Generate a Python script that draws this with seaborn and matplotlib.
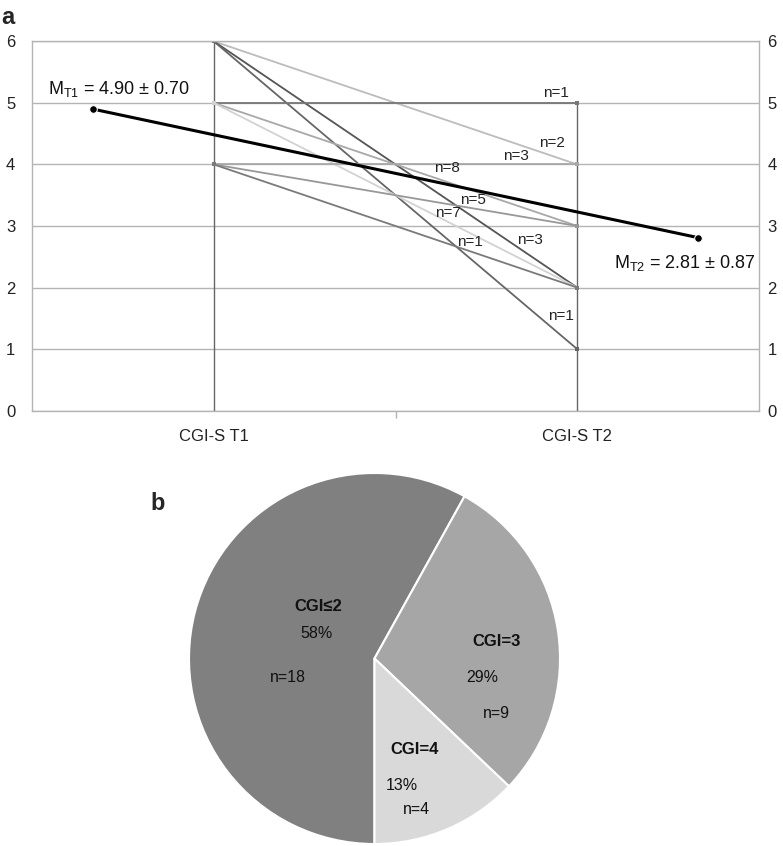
import matplotlib
matplotlib.use("Agg")
import matplotlib.pyplot as plt
import seaborn as sns
import pandas as pd
import numpy as np

# ---------------- data ----------------
categories = ["CGI-S T1", "CGI-S T2"]
t1_values = [6, 6, 6, 5, 5, 5, 4, 4, 4]
t2_values = [4, 2, 1, 5, 3, 2, 4, 3, 2]
n_counts = [2, 3, 1, 1, 8, 7, 3, 5, 1]
mean_t1, sd_t1 = 4.90, 0.70
mean_t2, sd_t2 = 2.81, 0.87

pie_labels = ["CGI\u22642", "CGI=3", "CGI=4"]
pie_n = [18, 9, 4]
pie_pct = [58, 29, 13]

# ---------------- styles ----------------
line_colors = ['#bcbcbc', '#555555', '#666666', '#777777', '#a8a8a8',
               '#d2d2d2', '#a8a8a8', '#989898', '#7a7a7a']
n_label_pos = [(0.930, 4.343), (0.870, 2.772), (0.955, 1.543),
               (0.941, 5.155), (0.641, 3.947), (0.643, 3.216),
               (0.831, 4.137), (0.714, 3.422), (0.705, 2.745)]
pie_colors = ['#808080', '#a6a6a6', '#d9d9d9']

sns.set_theme(style="white")
plt.rcParams['font.family'] = ['Liberation Sans', 'DejaVu Sans']
plt.rcParams['mathtext.default'] = 'regular'

fig = plt.figure(figsize=(7.83, 8.46), dpi=100)

# ---------------- panel a ----------------
ax = fig.add_axes([32 / 783, 1 - 410.7 / 846, 727 / 783, 369.4 / 846])
ax.set_xlim(-0.5, 1.5)
ax.set_ylim(0, 6)
ax.set_yticks(range(0, 7))
ax.yaxis.grid(True, color='#b4b4b4', lw=1.0, zorder=0)
ax.xaxis.grid(False)
for s in ['left', 'right', 'bottom', 'top']:
    ax.spines[s].set_visible(True)
    ax.spines[s].set_color('#b4b4b4')
    ax.spines[s].set_linewidth(1.0)

# drop lines at each category
xs = [0, 1]
ax.vlines(xs[0], 0, max(t1_values), color='#666666', lw=1.0, zorder=1)
ax.vlines(xs[1], 0, max(t2_values), color='#666666', lw=1.0, zorder=1)

# individual trajectories
long_rows = []
for i, (a, b) in enumerate(zip(t1_values, t2_values)):
    long_rows.append({"id": i, "time": 0, "value": a})
    long_rows.append({"id": i, "time": 1, "value": b})
df = pd.DataFrame(long_rows)
for i in range(len(t1_values)):
    sub = df[df["id"] == i]
    sns.lineplot(data=sub, x="time", y="value", color=line_colors[i], lw=1.3,
                 marker='s', markersize=3, markeredgewidth=0,
                 ax=ax, zorder=2, legend=False)
for i, (px, py) in enumerate(n_label_pos):
    ax.text(px, py, f"n={n_counts[i]}", fontsize=11, ha='center', va='center',
            color='#222222', zorder=4)

# mean line
sns.lineplot(x=[-1 / 3, 4 / 3], y=[mean_t1, mean_t2], color='black', lw=2.2,
             marker='o', markersize=5.5, ax=ax, zorder=5, legend=False)
ax.text(-0.261, 5.23, f"M$_{{T1}}$ = {mean_t1:.2f} \u00b1 {sd_t1:.2f}",
        fontsize=13, ha='center', va='center', color='#111111')
ax.text(1.296, 2.40, f"M$_{{T2}}$ = {mean_t2:.2f} \u00b1 {sd_t2:.2f}",
        fontsize=13, ha='center', va='center', color='#111111')

ax.set_xticks(xs)
ax.set_xticklabels(categories, fontsize=12, color='#222222')
ax.set_xticks([0.5], minor=True)
ax.tick_params(axis='x', which='major', length=0, pad=13)
ax.tick_params(axis='x', which='minor', length=5, color='#b4b4b4', width=1, bottom=True)
ax.tick_params(axis='y', length=0, labelsize=12, labelcolor='#222222',
               left=True, right=False, labelleft=True, labelright=False, pad=12)

# right-hand labels via twin axis
rax = ax.twinx()
rax.set_ylim(ax.get_ylim())
rax.set_yticks(range(0, 7))
rax.tick_params(axis='y', length=0, labelsize=12, labelcolor='#222222', pad=6)
rax.grid(False)
for s in rax.spines.values():
    s.set_visible(False)

ax.set_xlabel("")
ax.set_ylabel("")

fig.text(8 / 783, 1 - 18 / 846, "a", fontsize=17, fontweight='bold',
         ha='center', va='center')

# ---------------- panel b ----------------
pax = fig.add_axes([(374.5 - 185.5) / 783, 1 - 844 / 846, 371 / 783, 371 / 846])
wedges, _ = pax.pie(pie_n, colors=pie_colors, startangle=270, counterclock=False,
                    wedgeprops=dict(edgecolor='white', linewidth=1.5))
pax.set_xlim(-1, 1)
pax.set_ylim(-1, 1)
pax.set_aspect('equal')

name_pos = [(-0.305, 0.278), (0.660, 0.089), (0.218, -0.488)]
pct_pos = [(-0.315, 0.137), (0.580, -0.105), (0.148, -0.687)]
npos = [(-0.466, -0.105), (0.655, -0.294), (0.224, -0.816)]
for i in range(len(pie_n)):
    pax.text(*name_pos[i], pie_labels[i], fontsize=12, fontweight='bold',
             ha='center', va='center', color='#111111')
    pax.text(*pct_pos[i], f"{pie_pct[i]}%", fontsize=11.5,
             ha='center', va='center', color='#111111')
    pax.text(*npos[i], f"n={pie_n[i]}", fontsize=11.5,
             ha='center', va='center', color='#111111')

fig.text(158 / 783, 1 - 503 / 846, "b", fontsize=17, fontweight='bold',
         ha='center', va='center')

fig.savefig("out.png", dpi=100, facecolor='white')
